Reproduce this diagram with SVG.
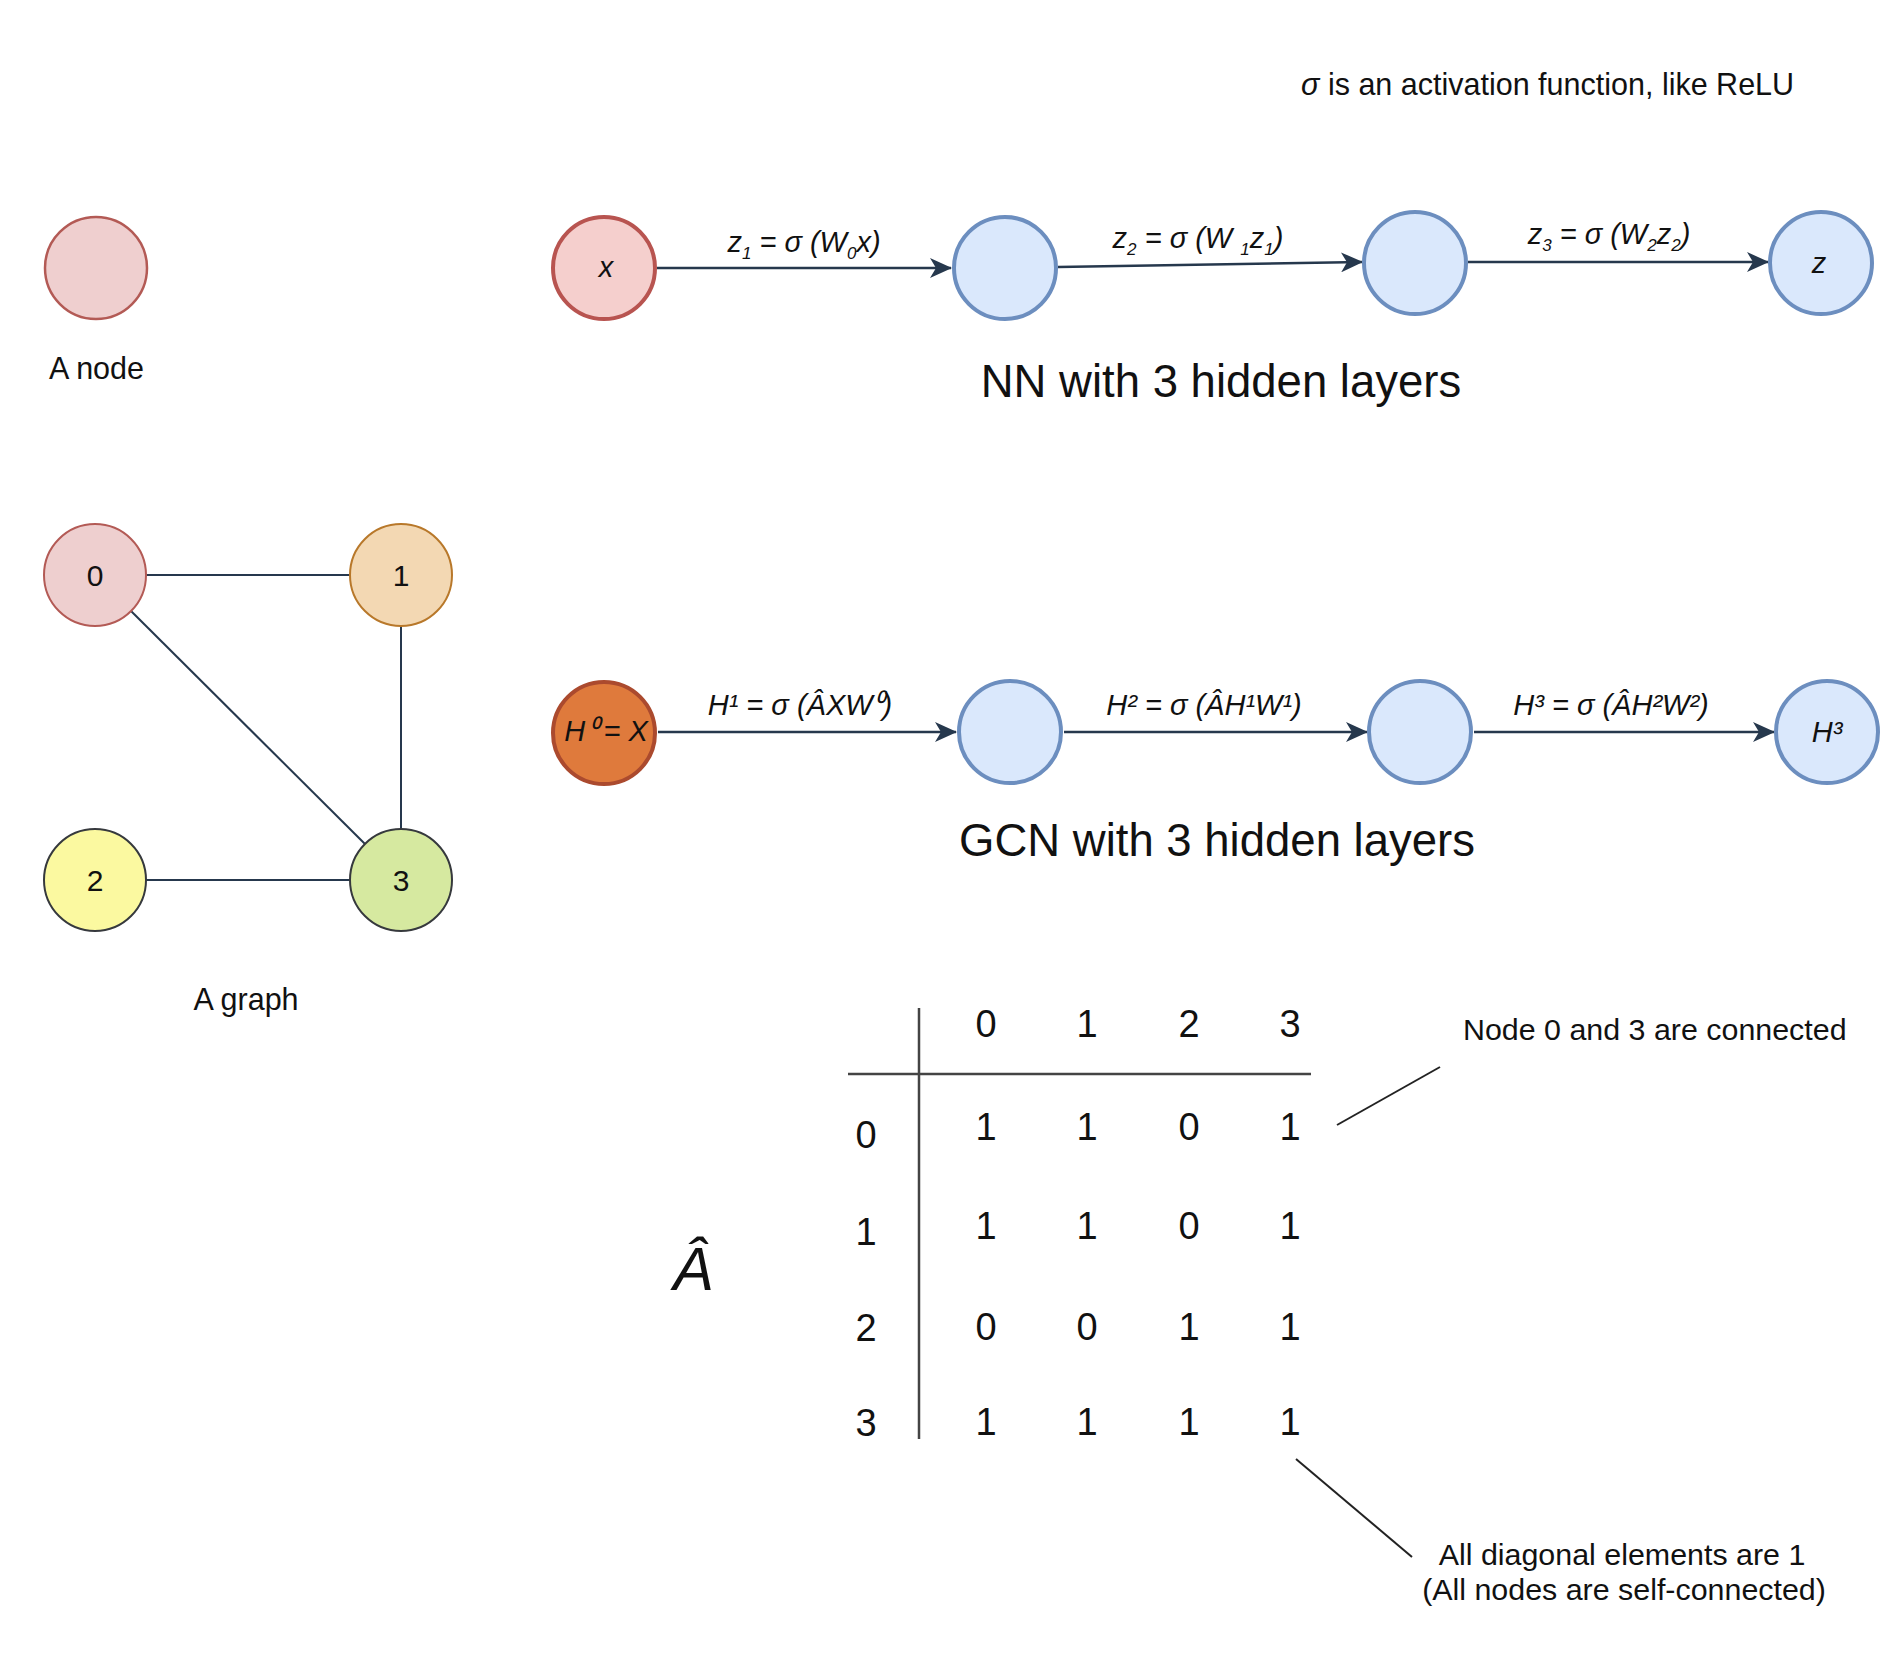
<svg xmlns="http://www.w3.org/2000/svg" width="1894" height="1658" viewBox="0 0 1894 1658">
<style>
text{font-family:"Liberation Sans",Arial,Helvetica,sans-serif;fill:#111}
.it{font-style:italic}
.lbl{font-size:29px;font-style:italic}
.sub{font-size:17px}
.cap{font-size:30.5px}
.ann{font-size:30.4px}
.title{font-size:45.5px}
.num{font-size:38px;text-anchor:middle}
.nl{font-size:30px;text-anchor:middle}
.blue{fill:#dae8fc;stroke:#6c8ebf;stroke-width:4}
.edge{stroke:#26384d;stroke-width:2.5;fill:none}
.gedge{stroke:#26384d;stroke-width:2;fill:none}
.mline{stroke:#444;stroke-width:2.5;fill:none}
.aline{stroke:#222;stroke-width:2;fill:none}
</style>
<defs>
<marker id="arr" viewBox="0 0 22 20" refX="21" refY="10" markerWidth="22" markerHeight="20" markerUnits="userSpaceOnUse" orient="auto">
<path d="M0,0 L22,10 L0,20 L6,10 Z" fill="#26384d"/>
</marker>
</defs>
<rect width="1894" height="1658" fill="#ffffff"/>

<text x="1301" y="95" class="cap"><tspan class="it">σ</tspan> is an activation function, like ReLU</text>

<g id="single-node">
<circle cx="96" cy="268" r="51" fill="#efcfcf" stroke="#b35a55" stroke-width="2.5"/>
<text x="49" y="379" class="cap">A node</text>
</g>

<g id="connectors">
<line class="edge" x1="657" y1="268" x2="951" y2="268" marker-end="url(#arr)"/>
<line class="edge" x1="1058" y1="267" x2="1362" y2="262" marker-end="url(#arr)"/>
<line class="edge" x1="1468" y1="262" x2="1768" y2="262" marker-end="url(#arr)"/>
<line class="edge" x1="658" y1="732" x2="956" y2="732" marker-end="url(#arr)"/>
<line class="edge" x1="1064" y1="732" x2="1367" y2="732" marker-end="url(#arr)"/>
<line class="edge" x1="1474" y1="732" x2="1774" y2="732" marker-end="url(#arr)"/>
<line class="gedge" x1="146" y1="575" x2="350" y2="575"/>
<line class="gedge" x1="401" y1="626" x2="401" y2="829"/>
<line class="gedge" x1="131" y1="611" x2="365" y2="844"/>
<line class="gedge" x1="146" y1="880" x2="350" y2="880"/>
</g>

<g id="nn-x">
<circle cx="604" cy="268" r="51" fill="#f5cfcd" stroke="#b85450" stroke-width="4"/>
<text x="606" y="277" class="lbl" text-anchor="middle" font-size="30">x</text>
</g>
<g id="nn-h1"><circle cx="1005" cy="268" r="51" class="blue"/></g>
<g id="nn-h2"><circle cx="1415" cy="263" r="51" class="blue"/></g>
<g id="nn-z">
<circle cx="1821" cy="263" r="51" class="blue"/>
<text x="1819" y="273" class="lbl" text-anchor="middle">z</text>
</g>

<text x="804" y="252" class="lbl" text-anchor="middle">z<tspan class="sub" dy="7">1</tspan><tspan dy="-7"> = σ (W</tspan><tspan class="sub" dy="7">0</tspan><tspan dy="-7">x)</tspan></text>
<text x="1198" y="248" class="lbl" text-anchor="middle">z<tspan class="sub" dy="7">2</tspan><tspan dy="-7"> = σ (W </tspan><tspan class="sub" dy="7">1</tspan><tspan dy="-7">z</tspan><tspan class="sub" dy="7">1</tspan><tspan dy="-7">)</tspan></text>
<text x="1609" y="244" class="lbl" text-anchor="middle">z<tspan class="sub" dy="7">3</tspan><tspan dy="-7"> = σ (W</tspan><tspan class="sub" dy="7">2</tspan><tspan dy="-7">z</tspan><tspan class="sub" dy="7">2</tspan><tspan dy="-7">)</tspan></text>

<text x="1221" y="397" class="title" text-anchor="middle">NN with 3 hidden layers</text>

<g id="gcn-h0">
<circle cx="604" cy="733" r="51" fill="#df7a3c" stroke="#ab4a2e" stroke-width="4"/>
<text x="606" y="741" class="lbl" text-anchor="middle" font-size="30">H&#x200A;⁰&#x2009;= X</text>
</g>
<g id="gcn-h1"><circle cx="1010" cy="732" r="51" class="blue"/></g>
<g id="gcn-h2"><circle cx="1420" cy="732" r="51" class="blue"/></g>
<g id="gcn-h3">
<circle cx="1827" cy="732" r="51" class="blue"/>
<text x="1827" y="742" class="lbl" text-anchor="middle">H³</text>
</g>

<text x="800" y="715" class="lbl" text-anchor="middle">H¹ = σ (ÂXW⁰)</text>
<text x="1204" y="715" class="lbl" text-anchor="middle">H² = σ (ÂH¹W¹)</text>
<text x="1611" y="715" class="lbl" text-anchor="middle">H³ = σ (ÂH²W²)</text>

<text x="1217" y="856" class="title" text-anchor="middle">GCN with 3 hidden layers</text>

<g id="g-node0">
<circle cx="95" cy="575" r="51" fill="#eecfcf" stroke="#b35a55" stroke-width="2"/>
<text x="95" y="586" class="nl">0</text>
</g>
<g id="g-node1">
<circle cx="401" cy="575" r="51" fill="#f3d8b3" stroke="#b8782a" stroke-width="2"/>
<text x="401" y="586" class="nl">1</text>
</g>
<g id="g-node2">
<circle cx="95" cy="880" r="51" fill="#fbf9a0" stroke="#36393d" stroke-width="2"/>
<text x="95" y="891" class="nl">2</text>
</g>
<g id="g-node3">
<circle cx="401" cy="880" r="51" fill="#d6e9a0" stroke="#36393d" stroke-width="2"/>
<text x="401" y="891" class="nl">3</text>
</g>
<text x="246" y="1010" class="cap" text-anchor="middle" font-size="31">A graph</text>

<g id="matrix">
<line class="mline" x1="919" y1="1008" x2="919" y2="1439"/>
<line class="mline" x1="848" y1="1074" x2="1311" y2="1074"/>
<text x="693" y="1290" class="it" font-size="61" text-anchor="middle">Â</text>
<text x="986" y="1037" class="num">0</text>
<text x="1087" y="1037" class="num">1</text>
<text x="1189" y="1037" class="num">2</text>
<text x="1290" y="1037" class="num">3</text>
<text x="866" y="1148" class="num">0</text>
<text x="866" y="1245" class="num">1</text>
<text x="866" y="1341" class="num">2</text>
<text x="866" y="1436" class="num">3</text>
<text x="986" y="1140" class="num">1</text>
<text x="1087" y="1140" class="num">1</text>
<text x="1189" y="1140" class="num">0</text>
<text x="1290" y="1140" class="num">1</text>
<text x="986" y="1239" class="num">1</text>
<text x="1087" y="1239" class="num">1</text>
<text x="1189" y="1239" class="num">0</text>
<text x="1290" y="1239" class="num">1</text>
<text x="986" y="1340" class="num">0</text>
<text x="1087" y="1340" class="num">0</text>
<text x="1189" y="1340" class="num">1</text>
<text x="1290" y="1340" class="num">1</text>
<text x="986" y="1435" class="num">1</text>
<text x="1087" y="1435" class="num">1</text>
<text x="1189" y="1435" class="num">1</text>
<text x="1290" y="1435" class="num">1</text>
</g>

<g id="annotations">
<line class="aline" x1="1337" y1="1125" x2="1440" y2="1067"/>
<line class="aline" x1="1296" y1="1459" x2="1412" y2="1557"/>
<text x="1463" y="1040" class="ann">Node 0 and 3 are connected</text>
<text x="1622" y="1565" class="ann" text-anchor="middle">All diagonal elements are 1</text>
<text x="1624" y="1600" class="ann" text-anchor="middle">(All nodes are self-connected)</text>
</g>
</svg>
